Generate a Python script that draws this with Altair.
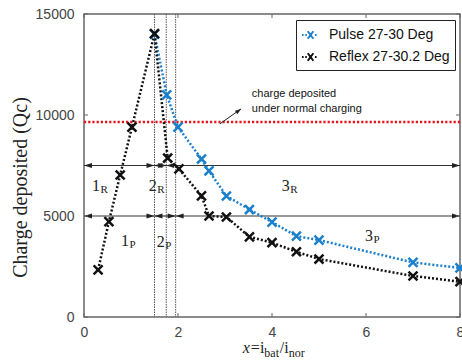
import altair as alt
import pandas as pd

# ---------------- data ----------------
series = ["Pulse 27-30 Deg", "Reflex 27-30.2 Deg"]
colors = ["#1a80cc", "#111111"]

pulse_x = [1.5, 1.76, 2.0, 2.5, 2.66, 3.03, 3.52, 4.0, 4.52, 5.0, 7.0, 8.0]
pulse_y = [14000, 11000, 9400, 7820, 7230, 5990, 5320, 4700, 4000, 3810, 2700, 2430]

reflex_x = [0.3, 0.53, 0.77, 1.02, 1.5, 1.78, 2.02, 2.5, 2.66, 3.03, 3.52, 4.0, 4.52, 5.0, 7.0, 8.0]
reflex_y = [2330, 4720, 7030, 9400, 14030, 7870, 7330, 6000, 5000, 4950, 3970, 3680, 3230, 2870, 2030, 1750]

x_ticks = [0, 2, 4, 6, 8]
y_ticks = [0, 5000, 10000, 15000]

boundaries = [1.5, 1.75, 1.95]
normal_charge = [9650]

r_row_y = 7500
p_row_y = 5000
r_bounds = [0, 1.5, 1.75, 8]
p_bounds = [0, 1.5, 1.95, 8]

region_digit = ["1", "2", "3", "1", "2", "3"]
region_sub = ["R", "R", "R", "P", "P", "P"]
region_x = [0.34, 1.55, 4.38, 0.96, 1.72, 6.15]
region_y = [6500, 6500, 6500, 3750, 3700, 4000]

note_lines = ["charge deposited", "under normal charging"]
note_x = [3.57, 3.57]
note_y = [11040, 10300]
note_arrow_x = [2.89, 3.34]
note_arrow_y = [9560, 10300]

# ---------------- tables ----------------
df_series = pd.concat([
    pd.DataFrame({"x": pulse_x, "y": pulse_y, "s": series[0], "o": 0}),
    pd.DataFrame({"x": reflex_x, "y": reflex_y, "s": series[1], "o": 1}),
], ignore_index=True)

seg_rows, head_rows = [], []
for yv, bounds in [(r_row_y, r_bounds), (p_row_y, p_bounds)]:
    for a, b in zip(bounds[:-1], bounds[1:]):
        seg_rows.append({"x": a, "x2": b, "y": yv})
        head_rows.append({"x": a, "y": yv, "d": "L"})
        head_rows.append({"x": b, "y": yv, "d": "R"})
df_seg = pd.DataFrame(seg_rows)
df_head = pd.DataFrame(head_rows)

df_regions = pd.DataFrame({"x": region_x, "y": region_y, "d": region_digit, "s": region_sub})
df_note = pd.DataFrame({"x": note_x, "y": note_y, "t": note_lines})
df_note_arrow = pd.DataFrame({"x": [note_arrow_x[0]], "x2": [note_arrow_x[1]],
                              "y": [note_arrow_y[0]], "y2": [note_arrow_y[1]]})
df_note_head = pd.DataFrame({"x": [note_arrow_x[1]], "y": [note_arrow_y[1]]})

W, H = 376, 303
SANS = "Liberation Sans"
SERIF = "Liberation Serif"

xs = alt.Scale(domain=[0, 8], nice=False, zero=False)
ys = alt.Scale(domain=[0, 15000], nice=False, zero=False)

x_axis = alt.Axis(values=x_ticks, ticks=False, domain=False, grid=False,
                  labelFont=SANS, labelFontSize=14, labelColor="#444",
                  labelPadding=8, labelFlush=False, title=None, format="d")
y_axis = alt.Axis(values=y_ticks, ticks=False, domain=False, grid=False,
                  labelFont=SANS, labelFontSize=14, labelColor="#444",
                  labelPadding=10, format="d", title="Charge deposited (Qc)",
                  titleFont=SERIF, titleFontSize=20, titleFontWeight="normal",
                  titleColor="#222", titleX=-64, titleY=173, titleAngle=270,
                  titleAlign="center", titleBaseline="middle")


def X(f="x"):
    return alt.X(f"{f}:Q", scale=xs, axis=x_axis)


def Y(f="y"):
    return alt.Y(f"{f}:Q", scale=ys, axis=y_axis)


XMARK = "M-1,-1L1,1M-1,1L1,-1"
LEG_SYM = ("M-1,0L-0.82,0M-0.64,0L-0.46,0M-0.36,-0.42L0.26,0.42"
           "M-0.36,0.42L0.26,-0.42M0.44,0L0.62,0")
HEAD_R = "M0,0L-2,-0.6L-2,0.6Z"
HEAD_L = "M0,0L2,-0.6L2,0.6Z"

color_scale = alt.Scale(domain=series, range=colors)
legend = alt.Legend(
    title=None, orient="none", legendX=212, legendY=6,
    symbolType=LEG_SYM, symbolSize=324, symbolStrokeWidth=2,
    symbolFillColor="transparent",
    labelFont=SANS, labelFontSize=14, labelColor="#111",
    strokeColor="#222", fillColor="white", padding=5,
    rowPadding=4, labelOffset=8, cornerRadius=0)
color_enc = alt.Color("s:N", scale=color_scale, legend=legend)

# boundaries
vlines = alt.Chart(pd.DataFrame({"x": boundaries})).mark_rule(
    color="#555", strokeWidth=1, strokeDash=[1.5, 1]).encode(x=X())

# red reference line
redline = alt.Chart(pd.DataFrame({"y": normal_charge})).mark_rule(
    color="#e8141c", strokeWidth=2.5, strokeDash=[2.2, 2]).encode(y=Y())

# region arrows
segs = alt.Chart(df_seg).mark_rule(color="#333", strokeWidth=1.2).encode(
    x=X(), x2="x2:Q", y=Y())
heads_r = alt.Chart(df_head).transform_filter("datum.d == 'R'").mark_point(
    shape=HEAD_R, filled=True, color="#222", size=64, opacity=1).encode(x=X(), y=Y())
heads_l = alt.Chart(df_head).transform_filter("datum.d == 'L'").mark_point(
    shape=HEAD_L, filled=True, color="#222", size=64, opacity=1).encode(x=X(), y=Y())

# region labels
reg_digit = alt.Chart(df_regions).mark_text(
    align="right", baseline="middle", font=SERIF, fontSize=16, color="#222").encode(
    x=X(), y=Y(), text="d:N")
reg_sub = alt.Chart(df_regions).mark_text(
    align="left", baseline="middle", font=SERIF, fontSize=11, color="#222", dx=0.5, dy=4).encode(
    x=X(), y=Y(), text="s:N")

# series lines and markers
lines = alt.Chart(df_series).mark_line(strokeWidth=2.5, strokeDash=[2, 2]).encode(
    x=X(), y=Y(), color=color_enc, detail="s:N")
points = alt.Chart(df_series).mark_point(
    shape=XMARK, filled=False, strokeWidth=2.5, size=80, opacity=1).encode(
    x=X(), y=Y(), color=color_enc, order="o:Q")

# annotation
note_text = alt.Chart(df_note).mark_text(
    align="left", baseline="middle", font=SANS, fontSize=11, color="#111").encode(
    x=X(), y=Y(), text="t:N")
note_line = alt.Chart(df_note_arrow).mark_rule(color="#222", strokeWidth=1).encode(
    x=X(), x2="x2:Q", y=Y(), y2="y2:Q")
note_head = alt.Chart(df_note_head).mark_point(
    shape="M0,0L-2,-0.7L-2,0.7Z", filled=True, color="#222", size=36, angle=324, opacity=1).encode(
    x=X(), y=Y())

# inward ticks on all four sides
tk_x = pd.DataFrame({"x": x_ticks})
tk_y = pd.DataFrame({"y": y_ticks})
tick_b = alt.Chart(tk_x).mark_rule(color="#666", strokeWidth=1).encode(
    x=X(), y=alt.value(H), y2=alt.value(H - 4))
tick_t = alt.Chart(tk_x).mark_rule(color="#666", strokeWidth=1).encode(
    x=X(), y=alt.value(0), y2=alt.value(4))
tick_l = alt.Chart(tk_y).mark_rule(color="#666", strokeWidth=1).encode(
    y=Y(), x=alt.value(0), x2=alt.value(4))
tick_r = alt.Chart(tk_y).mark_rule(color="#666", strokeWidth=1).encode(
    y=Y(), x=alt.value(W), x2=alt.value(W - 4))

# x-axis title  x = i_bat / i_nor
title_anchor = 3.38
pieces = [("x", 0, 16, "italic", 0), ("=i", 8, 16, "normal", 0),
          ("bat", 21.5, 12, "normal", 4), ("/i", 37, 16, "normal", 0),
          ("nor", 46, 12, "normal", 4)]
title_layers = []
for txt, dx, fs, st, dy in pieces:
    title_layers.append(
        alt.Chart(pd.DataFrame({"t": [txt]})).mark_text(
            align="left", baseline="alphabetic", font=SERIF, fontSize=fs,
            fontStyle=st, color="#222", dx=dx, dy=dy).encode(
            x=alt.X("a:Q", scale=xs, axis=x_axis), y=alt.value(H + 36), text="t:N"
        ).transform_calculate(a=str(title_anchor))
    )

chart = alt.layer(
    vlines, redline, segs, heads_r, heads_l, tick_b, tick_t, tick_l, tick_r,
    lines, points, reg_digit, reg_sub, note_line, note_head, note_text,
    *title_layers
).properties(
    width=W, height=H,
    autosize=alt.AutoSizeParams(type="none"),
    padding={"left": 84, "top": 14, "right": 2, "bottom": 45},
    background="white",
).configure_view(stroke="#666", strokeWidth=1.5)

chart.save("out.html", embed_options={"renderer": "svg", "actions": False})
